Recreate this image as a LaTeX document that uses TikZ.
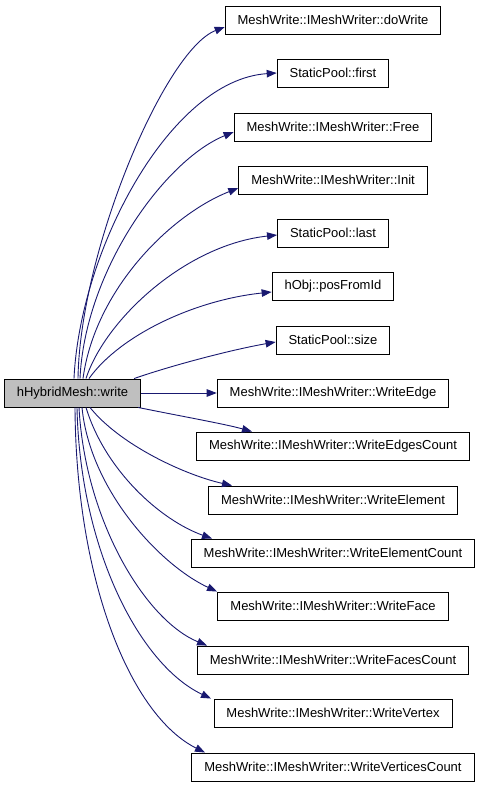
\documentclass[tikz,border=0pt]{standalone}
\usepackage{fontspec}
\setmainfont{Liberation Sans}
\usetikzlibrary{arrows.meta}
\definecolor{edgeblue}{HTML}{191970}
\definecolor{nodegray}{HTML}{BFBFBF}
\begin{document}
\begin{tikzpicture}[x=1pt,y=-1pt,
  fn/.style={draw=black,line width=0.9pt,minimum height=28pt,inner xsep=12.5pt,inner ysep=0pt,font=\fontsize{13}{15}\selectfont},
  call/.style={draw=edgeblue,line width=0.9pt,-{Triangle[length=10pt,width=7.5pt,fill=edgeblue]}}]
\useasboundingbox (0,0) rectangle (483,787);
\node[fn,fill=nodegray] (write) at (72.5,393) {hHybridMesh::write};
\node[fn] (doWrite) at (333,20) {MeshWrite::IMeshWriter::doWrite};
\node[fn] (first) at (333,73) {StaticPool::first};
\node[fn] (Free) at (333,127) {MeshWrite::IMeshWriter::Free};
\node[fn] (Init) at (333,180) {MeshWrite::IMeshWriter::Init};
\node[fn] (last) at (333,233) {StaticPool::last};
\node[fn] (posFromId) at (333,286) {hObj::posFromId};
\node[fn] (size) at (333,340) {StaticPool::size};
\node[fn] (WriteEdge) at (333,393) {MeshWrite::IMeshWriter::WriteEdge};
\node[fn] (WriteEdgesCount) at (333,446) {MeshWrite::IMeshWriter::WriteEdgesCount};
\node[fn] (WriteElement) at (333,500) {MeshWrite::IMeshWriter::WriteElement};
\node[fn] (WriteElementCount) at (333,553) {MeshWrite::IMeshWriter::WriteElementCount};
\node[fn] (WriteFace) at (333,606) {MeshWrite::IMeshWriter::WriteFace};
\node[fn] (WriteFacesCount) at (333,660) {MeshWrite::IMeshWriter::WriteFacesCount};
\node[fn] (WriteVertex) at (333,713) {MeshWrite::IMeshWriter::WriteVertex};
\node[fn] (WriteVerticesCount) at (333,767) {MeshWrite::IMeshWriter::WriteVerticesCount};
\draw[call] ([xshift=5.5pt]write.north) .. controls (80,250) and (165,50) .. ([yshift=-7pt]doWrite.west);
\draw[call] ([xshift=1.5pt]write.north) .. controls (80,250) and (170,80) .. (first.west);
\draw[call] ([xshift=7.5pt]write.north) .. controls (85,270) and (165,160) .. ([yshift=-5pt]Free.west);
\draw[call] ([xshift=10.5pt]write.north) .. controls (95,290) and (170,215) .. ([yshift=-8pt]Init.west);
\draw[call] ([xshift=13.5pt]write.north) .. controls (105,320) and (185,245) .. ([yshift=-2pt]last.west);
\draw[call] ([xshift=16.5pt]write.north) .. controls (120,335) and (195,300) .. ([yshift=-6pt]posFromId.west);
\draw[call] ([xshift=-7pt]write.north east) .. controls (170,366) and (230,350) .. ([yshift=-2pt]size.west);
\draw[call] (write.east) -- (WriteEdge.west);
\draw[call] ([xshift=-3pt]write.south east) .. controls (180,416) and (225,424) .. ([xshift=-81pt]WriteEdgesCount.north);
\draw[call] ([xshift=17.5pt]write.south) .. controls (120,445) and (185,475) .. ([xshift=-101pt]WriteElement.north);
\draw[call] ([xshift=13.5pt]write.south) .. controls (105,470) and (160,520) .. ([xshift=-121pt]WriteElementCount.north);
\draw[call] ([xshift=9.5pt]write.south) .. controls (90,490) and (160,565) .. ([xshift=-116pt]WriteFace.north);
\draw[call] ([xshift=6.5pt]write.south) .. controls (85,520) and (145,620) .. ([xshift=-126pt]WriteFacesCount.north);
\draw[call] ([xshift=4.5pt]write.south) .. controls (80,550) and (140,665) .. ([xshift=-122pt]WriteVertex.north);
\draw[call] ([xshift=2.5pt]write.south) .. controls (76,580) and (130,715) .. ([xshift=-128pt]WriteVerticesCount.north);
\end{tikzpicture}
\end{document}
